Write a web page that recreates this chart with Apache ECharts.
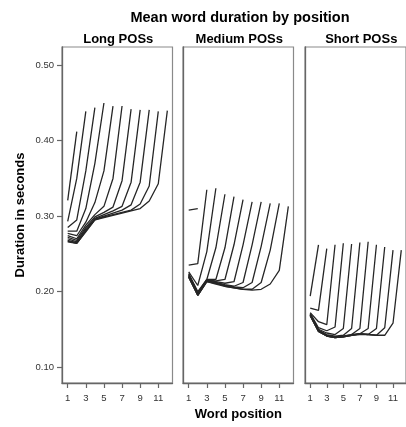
<!DOCTYPE html>
<html>
<head>
<meta charset="utf-8">
<script src="https://cdn.jsdelivr.net/npm/echarts@6/dist/echarts.min.js"></script>
<style>html,body{margin:0;padding:0;background:#fff;}#c{width:406px;height:427px;}</style>
</head>
<body>
<div id="c"></div>
<script>
// Word positions (x) and tick labels
const positions = [1, 2, 3, 4, 5, 6, 7, 8, 9, 10, 11, 12];
const xTicks = [1, 3, 5, 7, 9, 11];
const yTicks = [0.10, 0.20, 0.30, 0.40, 0.50];
const panelTitles = ['Long POSs', 'Medium POSs', 'Short POSs'];

// One line per utterance length (2..12 words): mean duration at each position
const longPOS = [
  [0.321, 0.412],
  [0.293, 0.350, 0.439],
  [0.285, 0.295, 0.360, 0.444],
  [0.280, 0.280, 0.310, 0.370, 0.450],
  [0.277, 0.274, 0.292, 0.318, 0.360, 0.446],
  [0.274, 0.270, 0.288, 0.302, 0.313, 0.350, 0.446],
  [0.272, 0.268, 0.285, 0.299, 0.305, 0.312, 0.347, 0.442],
  [0.270, 0.266, 0.283, 0.297, 0.302, 0.307, 0.313, 0.345, 0.441],
  [0.268, 0.265, 0.281, 0.296, 0.300, 0.304, 0.308, 0.315, 0.345, 0.441],
  [0.267, 0.264, 0.280, 0.295, 0.299, 0.302, 0.305, 0.308, 0.316, 0.340, 0.439],
  [0.266, 0.264, 0.279, 0.295, 0.298, 0.301, 0.304, 0.307, 0.310, 0.320, 0.343, 0.440]
];
const mediumPOS = [
  [0.308, 0.310],
  [0.235, 0.237, 0.335],
  [0.226, 0.208, 0.253, 0.337],
  [0.224, 0.200, 0.216, 0.258, 0.329],
  [0.223, 0.198, 0.216, 0.216, 0.258, 0.326],
  [0.222, 0.197, 0.215, 0.214, 0.216, 0.262, 0.322],
  [0.221, 0.196, 0.215, 0.213, 0.211, 0.213, 0.262, 0.319],
  [0.220, 0.196, 0.214, 0.212, 0.209, 0.207, 0.212, 0.262, 0.319],
  [0.220, 0.195, 0.214, 0.211, 0.208, 0.206, 0.205, 0.212, 0.260, 0.317],
  [0.219, 0.195, 0.213, 0.211, 0.207, 0.205, 0.203, 0.203, 0.212, 0.255, 0.317],
  [0.219, 0.195, 0.213, 0.210, 0.207, 0.205, 0.203, 0.202, 0.203, 0.210, 0.228, 0.313]
];
const shortPOS = [
  [0.194, 0.262],
  [0.178, 0.175, 0.257],
  [0.172, 0.160, 0.156, 0.262],
  [0.171, 0.152, 0.148, 0.153, 0.264],
  [0.170, 0.150, 0.145, 0.143, 0.151, 0.263],
  [0.170, 0.149, 0.143, 0.141, 0.142, 0.151, 0.265],
  [0.169, 0.148, 0.142, 0.140, 0.141, 0.143, 0.151, 0.266],
  [0.169, 0.148, 0.142, 0.140, 0.141, 0.143, 0.144, 0.151, 0.262],
  [0.169, 0.147, 0.141, 0.139, 0.140, 0.142, 0.144, 0.143, 0.151, 0.259],
  [0.168, 0.147, 0.141, 0.139, 0.140, 0.142, 0.144, 0.143, 0.142, 0.152, 0.255],
  [0.168, 0.147, 0.141, 0.139, 0.140, 0.142, 0.143, 0.143, 0.142, 0.142, 0.158, 0.255]
];

const panels = [longPOS, mediumPOS, shortPOS];
const FONT = 'Liberation Sans, Arial, sans-serif';
const gridLefts = [62, 183, 305];
const gridW = 110.5, gridTop = 47, gridH = 336;
const X_MIN = 0.37, X_MAX = 12.57, Y_MIN = 0.0787, Y_MAX = 0.5243;

const grids = gridLefts.map(l => ({
  left: l, top: gridTop, width: gridW, height: gridH,
  show: true, borderColor: '#8a8a8a', borderWidth: 1.2, backgroundColor: '#fff'
}));

const xAxes = gridLefts.map((l, i) => ({
  type: 'value', gridIndex: i, min: X_MIN, max: X_MAX,
  axisLine: { show: true, onZero: false, lineStyle: { color: '#666', width: 1.3 } },
  axisTick: { show: true, inside: false, length: 5, customValues: xTicks, lineStyle: { color: '#666', width: 1.2 } },
  axisLabel: { show: true, customValues: xTicks, color: '#333', fontSize: 9.5, fontFamily: FONT, margin: 10 },
  splitLine: { show: false },
  name: i === 1 ? 'Word position' : '',
  nameLocation: 'middle', nameGap: 25,
  nameTextStyle: { fontSize: 13, fontWeight: 'bold', color: '#000', fontFamily: FONT }
}));

const yAxes = gridLefts.map((l, i) => ({
  type: 'value', gridIndex: i, min: Y_MIN, max: Y_MAX,
  axisLine: { show: true, lineStyle: { color: '#666', width: 1.3 } },
  axisTick: { show: i === 0, inside: false, length: 5, customValues: yTicks, lineStyle: { color: '#666', width: 1.2 } },
  axisLabel: { show: i === 0, customValues: yTicks, color: '#333', fontSize: 9.5, fontFamily: FONT, margin: 8,
    formatter: v => v.toFixed(2) },
  splitLine: { show: false },
  name: i === 0 ? 'Duration in seconds' : '',
  nameLocation: 'middle', nameGap: 35,
  nameTextStyle: { fontSize: 13, fontWeight: 'bold', color: '#000', fontFamily: FONT }
}));

const series = [];
panels.forEach((lines, p) => {
  lines.forEach((vals, k) => {
    series.push({
      type: 'line', xAxisIndex: p, yAxisIndex: p,
      data: vals.map((v, j) => [positions[j], v]),
      showSymbol: false, symbol: 'none',
      lineStyle: { color: '#262626', width: 1.3 },
      emphasis: { disabled: true }, silent: true
    });
  });
});

const graphics = [{
  type: 'text', left: 'center', top: 0,
  x: 240, y: 18,
  style: { text: 'Mean word duration by position', x: 0, y: 0, textAlign: 'center', textVerticalAlign: 'middle',
    font: 'bold 14.5px ' + FONT, fill: '#000' }
}];
// replace with explicit positions
graphics.length = 0;
graphics.push({ type: 'text', x: 240, y: 18,
  style: { text: 'Mean word duration by position', textAlign: 'center', textVerticalAlign: 'middle', font: 'bold 14.5px ' + FONT, fill: '#000' } });
panelTitles.forEach((t, i) => {
  graphics.push({ type: 'text', x: gridLefts[i] + gridW / 2 + 1, y: 39,
    style: { text: t, textAlign: 'center', textVerticalAlign: 'middle', font: 'bold 13px ' + FONT, fill: '#000' } });
});

const chart = echarts.init(document.getElementById('c'), null, { renderer: 'canvas' });
chart.setOption({
  animation: false,
  backgroundColor: '#fff',
  grid: grids, xAxis: xAxes, yAxis: yAxes,
  graphic: graphics,
  series: series
});
</script>
</body>
</html>
